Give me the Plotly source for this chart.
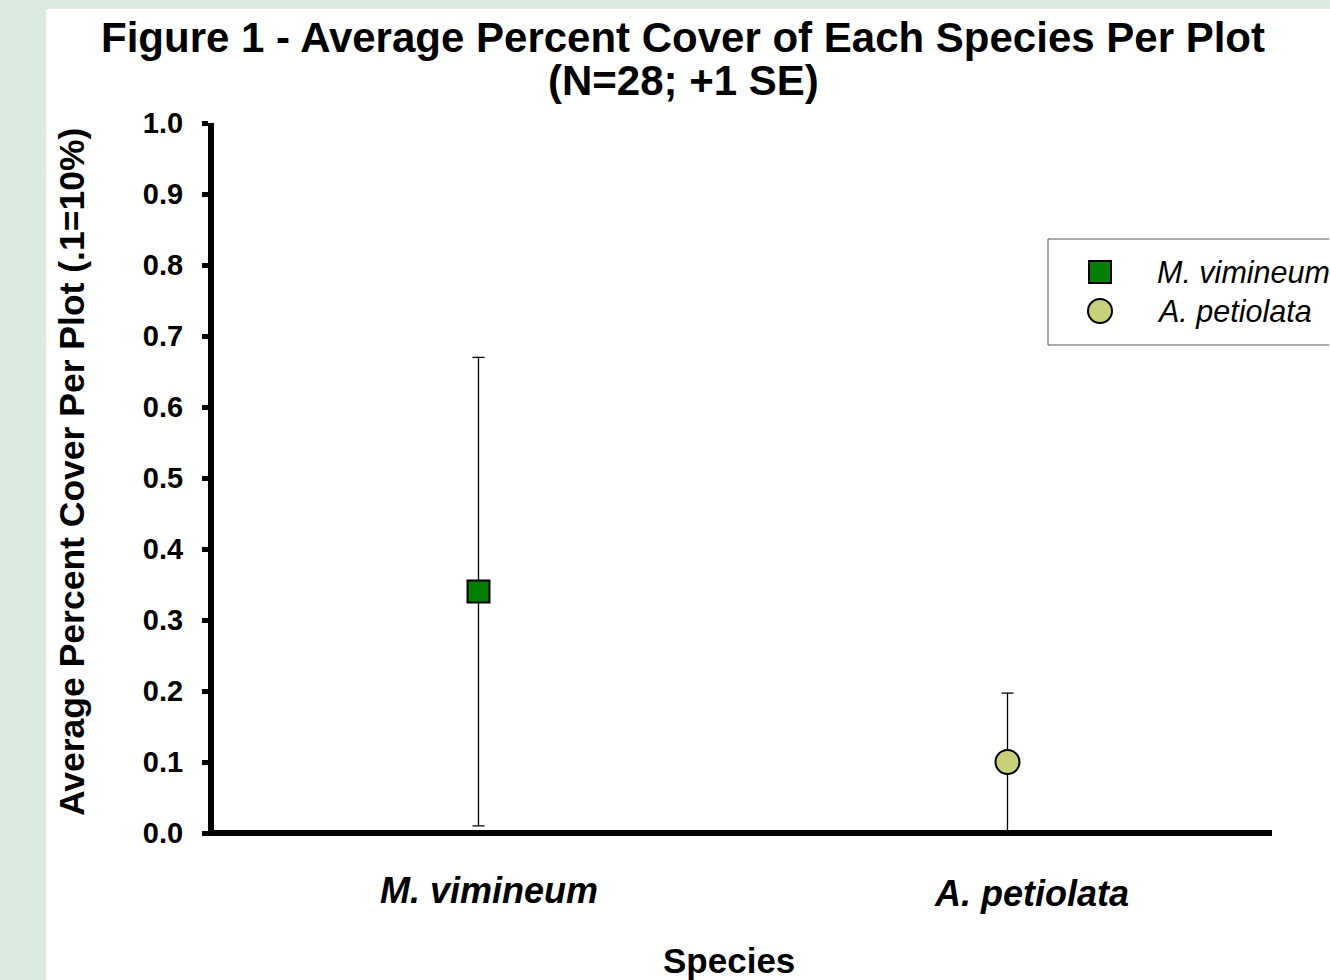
import plotly.graph_objects as go

# Species and their mean cover with standard errors
species = ["M. vimineum", "A. petiolata"]
mean_cover = [0.34, 0.10]
std_err = [0.33, 0.097]
marker_symbols = ["square", "circle"]
marker_colors = ["#007f00", "#c8d17a"]
marker_sizes = [22, 24]

y_ticks = [0.0, 0.1, 0.2, 0.3, 0.4, 0.5, 0.6, 0.7, 0.8, 0.9, 1.0]
y_tick_text = [f"{v:.1f}" for v in y_ticks]

FONT = "Liberation Sans, Arial, sans-serif"

# Plot-area geometry (pixels)
W, H = 1330, 980
L, R, T, B = 214, 58, 123, 147
PW, PH = W - L - R, H - T - B


def px(x):
    """Horizontal pixel -> paper coordinate."""
    return (x - L) / PW


def py(y):
    """Vertical pixel (from top) -> paper coordinate."""
    return (H - B - y) / PH


fig = go.Figure()
for name, m, se, sym, col, sz in zip(species, mean_cover, std_err,
                                      marker_symbols, marker_colors, marker_sizes):
    fig.add_trace(go.Scatter(
        x=[name], y=[m], name=name, mode="markers", showlegend=False,
        marker=dict(symbol=sym, color=col, size=sz,
                    line=dict(color="black", width=2)),
        # lower bar is cut off at zero cover
        error_y=dict(type="data", array=[se], arrayminus=[min(se, m)],
                     symmetric=False, color="black", thickness=1.3, width=6),
    ))

# Category labels beneath the axis
label_shift = [10, 24]
label_drop = [-57, -60]
for name, dx, dy in zip(species, label_shift, label_drop):
    fig.add_annotation(x=name, y=0, xref="x", yref="paper", yanchor="middle",
                       yshift=dy, xshift=dx, showarrow=False, text=name,
                       font=dict(family=FONT, size=36, color="black",
                                 weight="bold", style="italic"))

# Second title line
fig.add_annotation(text="(N=28; +1 SE)", xref="paper", yref="paper",
                   x=px(683), y=py(80), xanchor="center", yanchor="middle",
                   showarrow=False,
                   font=dict(family=FONT, size=42, color="black", weight="bold"))

# Axis titles
fig.add_annotation(text="Species", xref="paper", yref="paper",
                   x=px(729), y=py(960), xanchor="center", yanchor="middle",
                   showarrow=False,
                   font=dict(family=FONT, size=35, color="black", weight="bold"))
fig.add_annotation(text="Average Percent Cover Per Plot (.1=10%)", textangle=-90,
                   xref="paper", yref="paper", x=px(72), y=py(472),
                   xanchor="center", yanchor="middle", showarrow=False,
                   font=dict(family=FONT, size=35.5, color="black", weight="bold"))

fig.update_layout(
    width=W, height=H,
    paper_bgcolor="white", plot_bgcolor="white",
    margin=dict(l=L, r=R, t=T, b=B),
    title=dict(text="Figure 1 - Average Percent Cover of Each Species Per Plot",
               x=683 / W, xanchor="center", xref="container",
               y=1 - 37 / H, yanchor="middle", yref="container",
               font=dict(family=FONT, size=42, color="black", weight="bold")),
    showlegend=False,
    xaxis=dict(type="category", range=[-0.5, 1.5], showticklabels=False,
               ticks="", showline=False,
               showgrid=False, zeroline=False),
    yaxis=dict(range=[0, 1.0], tickvals=y_ticks, ticktext=y_tick_text,
               ticks="outside", ticklen=6, tickwidth=5, tickcolor="black",
               ticklabelstandoff=13,
               showline=True, linecolor="black", linewidth=6,
               showgrid=False, zeroline=False,
               tickfont=dict(family=FONT, size=29, color="black", weight="bold")),
)

# Heavy baseline along zero cover (bottom of the y range), drawn over the error bars
fig.add_shape(type="line", xref="paper", yref="paper", layer="above",
              x0=px(208), x1=1, y0=0, y1=0,
              line=dict(color="black", width=6))

# Legend: frame open on the right where it runs to the page edge
lx0, lx1, ly0, ly1 = px(1048), px(W - 1), py(345), py(239)
fig.add_shape(type="path", xref="paper", yref="paper",
              path=f"M {lx1} {ly1} L {lx0} {ly1} L {lx0} {ly0} L {lx1} {ly0}",
              line=dict(color="#555555", width=1))

legend_rows = [272, 311]
legend_glyph = [22, 24]
for name, sym, col, g, ry in zip(species, marker_symbols, marker_colors,
                                 legend_glyph, legend_rows):
    fig.add_shape(type="rect" if sym == "square" else "circle",
                  xref="paper", yref="paper",
                  x0=px(1100 - g / 2), x1=px(1100 + g / 2),
                  y0=py(ry + g / 2), y1=py(ry - g / 2),
                  fillcolor=col, line=dict(color="black", width=2))
    fig.add_annotation(text=name, xref="paper", yref="paper",
                       x=px(1155), y=py(ry), xanchor="left", yanchor="middle",
                       showarrow=False,
                       font=dict(family=FONT, size=30.5, color="black", style="italic"))

# Light green frame strips on the left and top edges
fig.add_shape(type="rect", xref="paper", yref="paper", layer="below",
              x0=px(0), x1=px(46), y0=py(H), y1=py(0),
              fillcolor="#dcebdf", line=dict(width=0))
fig.add_shape(type="rect", xref="paper", yref="paper", layer="below",
              x0=px(0), x1=px(W), y0=py(9), y1=py(0),
              fillcolor="#dcebdf", line=dict(width=0))

fig.write_html("out.html")
